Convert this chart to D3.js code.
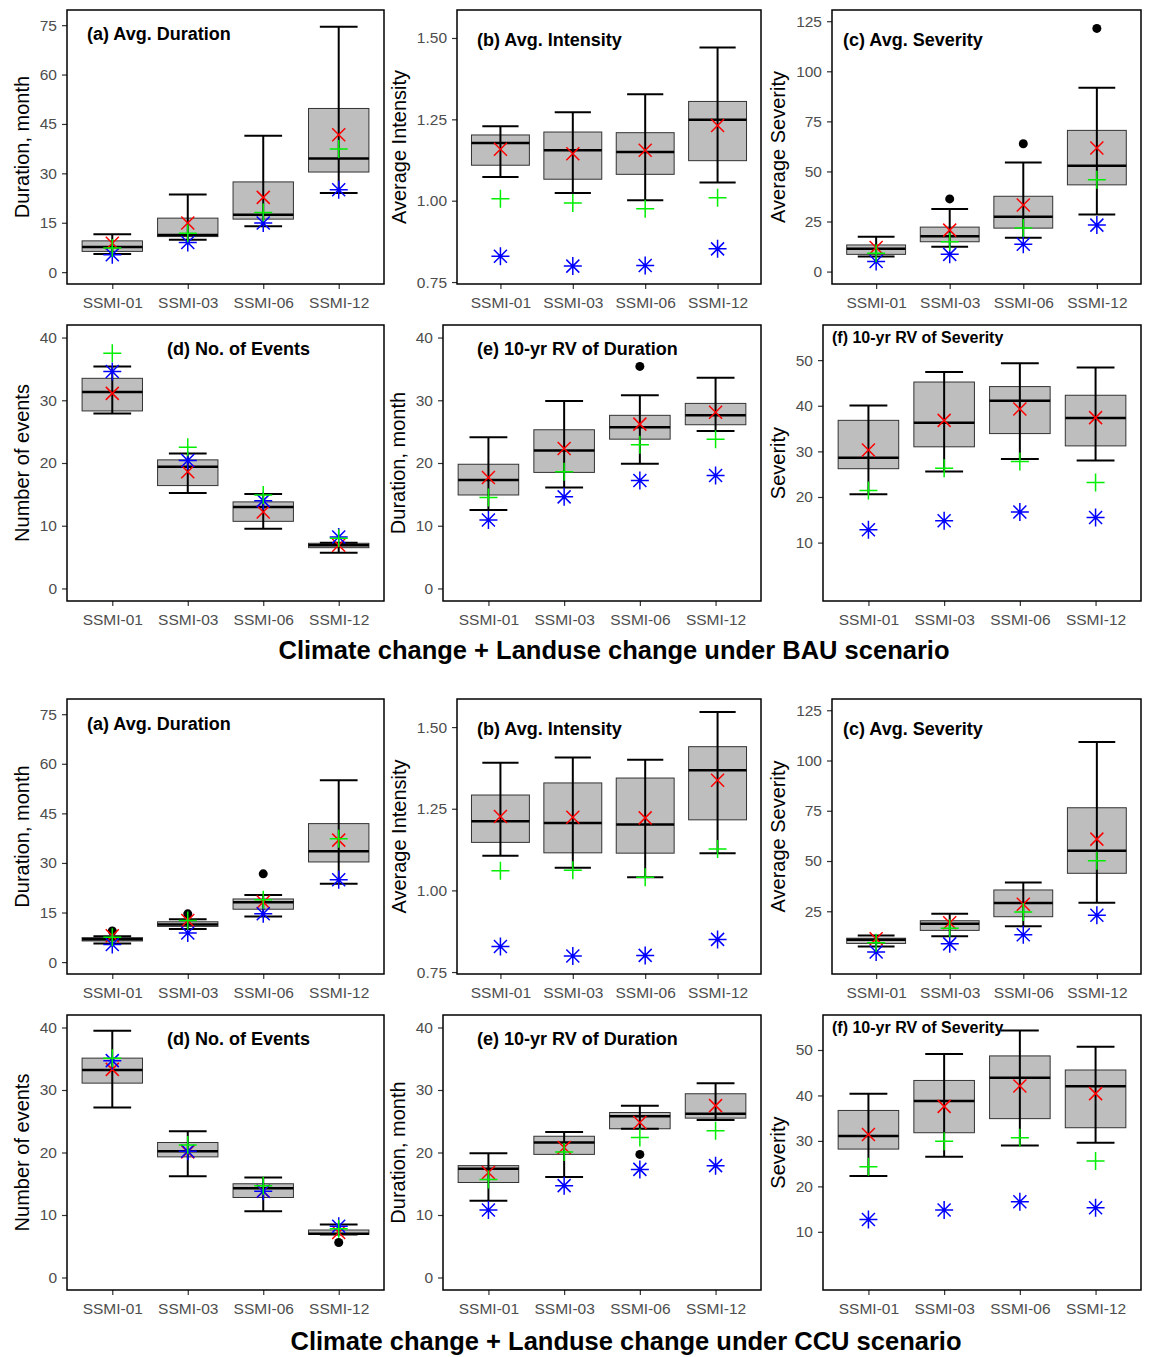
<!DOCTYPE html>
<html>
<head>
<meta charset="utf-8">
<script src="https://cdn.jsdelivr.net/npm/d3@7"></script>
<style>
  body { margin: 0; background: #fff; }
  svg { display: block; font-family: "Liberation Sans", Arial, sans-serif; }
</style>
</head>
<body>
<div id="chart"></div>
<script>
const categories = ["SSMI-01", "SSMI-03", "SSMI-06", "SSMI-12"];

// box stats per category: [lower whisker, Q1, median, Q3, upper whisker]
// BAU scenario
const bauDurBox = [[5.5, 6.3, 7.6, 9.5, 11.5], [9.8, 10.8, 11.3, 16.4, 23.6], [13.9, 16.1, 17.4, 27.4, 41.4], [24.0, 30.4, 34.5, 49.7, 74.5]];
const bauDurCross = [8.8, 14.9, 22.7, 41.7];
const bauDurPlus = [7.3, 11.8, 18.1, 37.4];
const bauDurStar = [5.3, 9.0, 14.9, 25.0];
const bauDurOut = [];

const bauIntBox = [[1.073, 1.109, 1.177, 1.202, 1.229], [1.024, 1.066, 1.155, 1.211, 1.272], [1.001, 1.081, 1.150, 1.209, 1.327], [1.056, 1.123, 1.249, 1.305, 1.471]];
const bauIntCross = [1.158, 1.144, 1.155, 1.231];
const bauIntPlus = [1.006, 0.993, 0.975, 1.009];
const bauIntStar = [0.829, 0.799, 0.801, 0.852];
const bauIntOut = [];

const bauSevBox = [[7.5, 8.6, 11.4, 13.3, 17.4], [12.4, 14.9, 17.7, 22.2, 31.3], [16.9, 21.7, 27.4, 37.6, 54.4], [28.5, 43.3, 52.9, 70.5, 91.8]];
const bauSevCross = [12.0, 20.7, 33.2, 61.7];
const bauSevPlus = [9.1, 14.9, 21.7, 45.9];
const bauSevStar = [5.0, 8.6, 13.6, 23.2];
const bauSevOut = [[1, 36.3], [2, 63.8], [3, 121.4]];

const bauEvtBox = [[27.9, 28.3, 31.3, 33.5, 35.4], [15.2, 16.4, 19.4, 20.5, 21.5], [9.5, 10.7, 13.0, 13.8, 15.05], [5.7, 6.5, 6.9, 7.2, 7.3]];
const bauEvtCross = [31.1, 18.6, 12.2, 6.9];
const bauEvtPlus = [37.5, 22.5, 14.9, 8.0];
const bauEvtStar = [34.6, 20.4, 14.0, 8.2];
const bauEvtOut = [];

const bauRvDurBox = [[12.5, 14.9, 17.3, 19.8, 24.1], [16.1, 18.5, 22.0, 25.3, 29.9], [19.9, 23.8, 25.7, 27.6, 30.8], [25.1, 26.1, 27.6, 29.5, 33.6]];
const bauRvDurCross = [17.7, 22.3, 26.2, 28.1];
const bauRvDurPlus = [14.5, 18.6, 22.9, 23.8];
const bauRvDurStar = [10.9, 14.6, 17.2, 18.0];
const bauRvDurOut = [[2, 35.4]];

const bauRvSevBox = [[20.6, 26.2, 28.6, 36.8, 40.05], [25.6, 31.0, 36.3, 45.2, 47.4], [28.3, 33.9, 41.1, 44.2, 49.3], [28.0, 31.2, 37.3, 42.3, 48.4]];
const bauRvSevCross = [30.3, 36.8, 39.3, 37.4];
const bauRvSevPlus = [21.4, 26.3, 27.8, 23.2];
const bauRvSevStar = [12.8, 14.8, 16.7, 15.5];
const bauRvSevOut = [];

// CCU scenario
const ccuDurBox = [[5.6, 6.4, 6.9, 7.4, 7.8], [10.0, 10.8, 11.4, 12.2, 13.0], [13.8, 16.0, 18.1, 19.1, 20.3], [23.7, 30.3, 33.5, 41.9, 55.0]];
const ccuDurCross = [8.0, 12.6, 18.2, 36.9];
const ccuDurPlus = [7.5, 12.6, 18.9, 37.3];
const ccuDurStar = [5.3, 8.8, 14.6, 24.9];
const ccuDurOut = [[0, 9.4], [1, 14.6], [2, 26.7]];

const ccuIntBox = [[1.106, 1.147, 1.212, 1.292, 1.391], [1.069, 1.115, 1.206, 1.329, 1.407], [1.040, 1.114, 1.202, 1.344, 1.400], [1.114, 1.216, 1.368, 1.440, 1.546]];
const ccuIntCross = [1.226, 1.224, 1.222, 1.337];
const ccuIntPlus = [1.060, 1.062, 1.040, 1.127];
const ccuIntStar = [0.828, 0.799, 0.801, 0.850];
const ccuIntOut = [];

const ccuSevBox = [[7.5, 9.0, 10.8, 11.6, 13.0], [12.6, 15.5, 18.8, 20.3, 23.8], [17.6, 22.3, 29.1, 35.6, 39.3], [29.3, 43.9, 55.1, 76.5, 109.2]];
const ccuSevCross = [11.3, 19.3, 28.5, 60.9];
const ccuSevPlus = [9.3, 16.6, 24.6, 50.1];
const ccuSevStar = [4.7, 8.8, 13.3, 23.0];
const ccuSevOut = [];

const ccuEvtBox = [[27.2, 31.1, 33.2, 35.1, 39.5], [16.2, 19.3, 20.2, 21.6, 23.4], [10.6, 12.8, 14.3, 15.0, 16.0], [6.9, 6.9, 7.0, 7.6, 8.5]];
const ccuEvtCross = [33.3, 20.1, 13.8, 7.2];
const ccuEvtPlus = [35.1, 21.2, 14.7, 7.8];
const ccuEvtStar = [34.7, 20.2, 13.8, 8.2];
const ccuEvtOut = [[3, 5.6]];

const ccuRvDurBox = [[12.3, 15.2, 17.4, 17.9, 19.9], [16.1, 19.7, 21.6, 22.6, 23.3], [23.8, 23.8, 25.8, 26.4, 27.5], [25.2, 25.5, 26.2, 29.4, 31.1]];
const ccuRvDurCross = [16.8, 20.8, 24.8, 27.5];
const ccuRvDurPlus = [15.7, 20.1, 22.4, 23.5];
const ccuRvDurStar = [10.8, 14.7, 17.3, 17.9];
const ccuRvDurOut = [[2, 19.7]];

const ccuRvSevBox = [[22.3, 28.2, 31.1, 36.7, 40.4], [26.5, 31.8, 38.8, 43.3, 49.1], [29.0, 34.9, 43.9, 48.7, 54.3], [29.6, 32.9, 42.0, 45.6, 50.7]];
const ccuRvSevCross = [31.4, 37.6, 42.1, 40.4];
const ccuRvSevPlus = [24.3, 29.9, 30.7, 25.6];
const ccuRvSevStar = [12.7, 14.8, 16.6, 15.3];
const ccuRvSevOut = [];

// axis ticks
const durTicks = [0, 15, 30, 45, 60, 75];
const intTicks = [0.75, 1.00, 1.25, 1.50];
const sevTicksBau = [0, 25, 50, 75, 100, 125];
const sevTicksCcu = [25, 50, 75, 100, 125];
const evtTicks = [0, 10, 20, 30, 40];
const rvSevTicks = [10, 20, 30, 40, 50];

const width = 1149;
const height = 1357;

const svg = d3.select("#chart")
    .append("svg")
    .attr("width", width)
    .attr("height", height);

// column / row frames
const colTop = [[67, 384], [457, 761], [832, 1141]];
const colBot = [[67, 384], [443, 761], [823, 1141]];
const rows = [[10, 284], [325, 601], [699, 974], [1015, 1290]];

function drawPanel(p) {
    const [x0, x1] = p.col;
    const [y0, y1] = p.row;
    const g = svg.append("g");

    const x = d3.scalePoint().domain(categories).range([x0, x1]).padding(0.6);
    const y = d3.scaleLinear().domain(p.domain).range([y1, y0]);
    const step = x.step();

    const yAxis = g.append("g")
        .attr("transform", `translate(${x0},0)`)
        .call(d3.axisLeft(y).tickValues(p.ticks).tickFormat(p.fmt).tickSize(5).tickPadding(5));
    yAxis.select(".domain").remove();

    const xAxis = g.append("g")
        .attr("transform", `translate(0,${y1})`)
        .call(d3.axisBottom(x).tickSize(5).tickPadding(8));
    xAxis.select(".domain").remove();

    g.selectAll(".tick line").attr("stroke", "#333").attr("stroke-width", 1.2);
    g.selectAll(".tick text")
        .attr("fill", "#4d4d4d")
        .style("font-size", "15.5px")
        .style("font-family", "Liberation Sans, Arial, sans-serif");

    categories.forEach((c, i) => {
        const b = p.box[i];
        const cx = x(c);
        g.append("rect")
            .attr("x", cx - 0.4 * step)
            .attr("y", y(b[3]))
            .attr("width", 0.8 * step)
            .attr("height", y(b[1]) - y(b[3]))
            .attr("fill", "#bebebe")
            .attr("stroke", "#333")
            .attr("stroke-width", 1);
        g.append("line")
            .attr("x1", cx).attr("x2", cx)
            .attr("y1", y(b[0])).attr("y2", y(b[4]))
            .attr("stroke", "#000").attr("stroke-width", 2);
        [b[0], b[4]].forEach(v => {
            g.append("line")
                .attr("x1", cx - 0.25 * step).attr("x2", cx + 0.25 * step)
                .attr("y1", y(v)).attr("y2", y(v))
                .attr("stroke", "#000").attr("stroke-width", 2);
        });
        g.append("line")
            .attr("x1", cx - 0.4 * step).attr("x2", cx + 0.4 * step)
            .attr("y1", y(b[2])).attr("y2", y(b[2]))
            .attr("stroke", "#000").attr("stroke-width", 2.5);
    });

    g.selectAll(".outlier")
        .data(p.out)
        .enter()
        .append("circle")
        .attr("cx", d => x(categories[d[0]]))
        .attr("cy", d => y(d[1]))
        .attr("r", 4.5)
        .attr("fill", "#000");

    // red x
    p.cross.forEach((v, i) => {
        const cx = x(categories[i]), cy = y(v), s = 6.5;
        g.append("path")
            .attr("d", `M${cx - s},${cy - s}L${cx + s},${cy + s}M${cx - s},${cy + s}L${cx + s},${cy - s}`)
            .attr("stroke", "#ff0000").attr("stroke-width", 1.5).attr("fill", "none");
    });
    // blue asterisk
    p.star.forEach((v, i) => {
        const cx = x(categories[i]), cy = y(v), s = 9, d = 6.5;
        g.append("path")
            .attr("d", `M${cx - s},${cy}L${cx + s},${cy}M${cx},${cy - s}L${cx},${cy + s}` +
                `M${cx - d},${cy - d}L${cx + d},${cy + d}M${cx - d},${cy + d}L${cx + d},${cy - d}`)
            .attr("stroke", "#0000ff").attr("stroke-width", 1.5).attr("fill", "none");
    });
    // green plus
    p.plus.forEach((v, i) => {
        const cx = x(categories[i]), cy = y(v), s = 9;
        g.append("path")
            .attr("d", `M${cx - s},${cy}L${cx + s},${cy}M${cx},${cy - s}L${cx},${cy + s}`)
            .attr("stroke", "#00ee00").attr("stroke-width", 1.5).attr("fill", "none");
    });

    g.append("rect")
        .attr("x", x0).attr("y", y0)
        .attr("width", x1 - x0).attr("height", y1 - y0)
        .attr("fill", "none")
        .attr("stroke", "#000")
        .attr("stroke-width", 1.5);

    g.append("text")
        .attr("x", x0 + p.tdx)
        .attr("y", y0 + p.tdy)
        .style("font-size", p.tsize + "px")
        .style("font-weight", "bold")
        .attr("fill", "#000")
        .text(p.title);

    const bb = yAxis.node().getBBox();
    const lx = x0 + bb.x - 11;
    g.append("text")
        .attr("transform", `translate(${lx},${(y0 + y1) / 2}) rotate(-90)`)
        .style("text-anchor", "middle")
        .style("font-size", "20px")
        .attr("fill", "#000")
        .text(p.ylab);
}

const f0 = d3.format("d");
const f2 = d3.format(".2f");

const panels = [
    { col: colTop[0], row: rows[0], domain: [-3.6, 79.6], ticks: durTicks, fmt: f0, ylab: "Duration, month", title: "(a) Avg. Duration", tdx: 20, tdy: 30, tsize: 18, box: bauDurBox, cross: bauDurCross, plus: bauDurPlus, star: bauDurStar, out: bauDurOut },
    { col: colTop[1], row: rows[0], domain: [0.744, 1.586], ticks: intTicks, fmt: f2, ylab: "Average Intensity", title: "(b) Avg. Intensity", tdx: 20, tdy: 36, tsize: 18, box: bauIntBox, cross: bauIntCross, plus: bauIntPlus, star: bauIntStar, out: bauIntOut },
    { col: colTop[2], row: rows[0], domain: [-6.2, 130.6], ticks: sevTicksBau, fmt: f0, ylab: "Average Severity", title: "(c) Avg. Severity", tdx: 11, tdy: 36, tsize: 18, box: bauSevBox, cross: bauSevCross, plus: bauSevPlus, star: bauSevStar, out: bauSevOut },
    { col: colBot[0], row: rows[1], domain: [-2.0, 42.0], ticks: evtTicks, fmt: f0, ylab: "Number of events", title: "(d) No. of Events", tdx: 100, tdy: 30, tsize: 18, box: bauEvtBox, cross: bauEvtCross, plus: bauEvtPlus, star: bauEvtStar, out: bauEvtOut },
    { col: colBot[1], row: rows[1], domain: [-2.0, 42.0], ticks: evtTicks, fmt: f0, ylab: "Duration, month", title: "(e) 10-yr RV of Duration", tdx: 34, tdy: 30, tsize: 18, box: bauRvDurBox, cross: bauRvDurCross, plus: bauRvDurPlus, star: bauRvDurStar, out: bauRvDurOut },
    { col: colBot[2], row: rows[1], domain: [-2.8, 57.7], ticks: rvSevTicks, fmt: f0, ylab: "Severity", title: "(f) 10-yr RV of Severity", tdx: 9, tdy: 18, tsize: 16, box: bauRvSevBox, cross: bauRvSevCross, plus: bauRvSevPlus, star: bauRvSevStar, out: bauRvSevOut },
    { col: colTop[0], row: rows[2], domain: [-3.6, 79.6], ticks: durTicks, fmt: f0, ylab: "Duration, month", title: "(a) Avg. Duration", tdx: 20, tdy: 31, tsize: 18, box: ccuDurBox, cross: ccuDurCross, plus: ccuDurPlus, star: ccuDurStar, out: ccuDurOut },
    { col: colTop[1], row: rows[2], domain: [0.744, 1.586], ticks: intTicks, fmt: f2, ylab: "Average Intensity", title: "(b) Avg. Intensity", tdx: 20, tdy: 36, tsize: 18, box: ccuIntBox, cross: ccuIntCross, plus: ccuIntPlus, star: ccuIntStar, out: ccuIntOut },
    { col: colTop[2], row: rows[2], domain: [-6.2, 130.6], ticks: sevTicksCcu, fmt: f0, ylab: "Average Severity", title: "(c) Avg. Severity", tdx: 11, tdy: 36, tsize: 18, box: ccuSevBox, cross: ccuSevCross, plus: ccuSevPlus, star: ccuSevStar, out: ccuSevOut },
    { col: colBot[0], row: rows[3], domain: [-2.0, 42.0], ticks: evtTicks, fmt: f0, ylab: "Number of events", title: "(d) No. of Events", tdx: 100, tdy: 30, tsize: 18, box: ccuEvtBox, cross: ccuEvtCross, plus: ccuEvtPlus, star: ccuEvtStar, out: ccuEvtOut },
    { col: colBot[1], row: rows[3], domain: [-2.0, 42.0], ticks: evtTicks, fmt: f0, ylab: "Duration, month", title: "(e) 10-yr RV of Duration", tdx: 34, tdy: 30, tsize: 18, box: ccuRvDurBox, cross: ccuRvDurCross, plus: ccuRvDurPlus, star: ccuRvDurStar, out: ccuRvDurOut },
    { col: colBot[2], row: rows[3], domain: [-2.8, 57.7], ticks: rvSevTicks, fmt: f0, ylab: "Severity", title: "(f) 10-yr RV of Severity", tdx: 9, tdy: 18, tsize: 16, box: ccuRvSevBox, cross: ccuRvSevCross, plus: ccuRvSevPlus, star: ccuRvSevStar, out: ccuRvSevOut }
];

panels.forEach(drawPanel);

svg.append("text")
    .attr("x", 614)
    .attr("y", 659)
    .style("text-anchor", "middle")
    .style("font-size", "25.5px")
    .style("font-weight", "bold")
    .text("Climate change + Landuse change under BAU scenario");

svg.append("text")
    .attr("x", 626)
    .attr("y", 1350)
    .style("text-anchor", "middle")
    .style("font-size", "25.5px")
    .style("font-weight", "bold")
    .text("Climate change + Landuse change under CCU scenario");
</script>
</body>
</html>
